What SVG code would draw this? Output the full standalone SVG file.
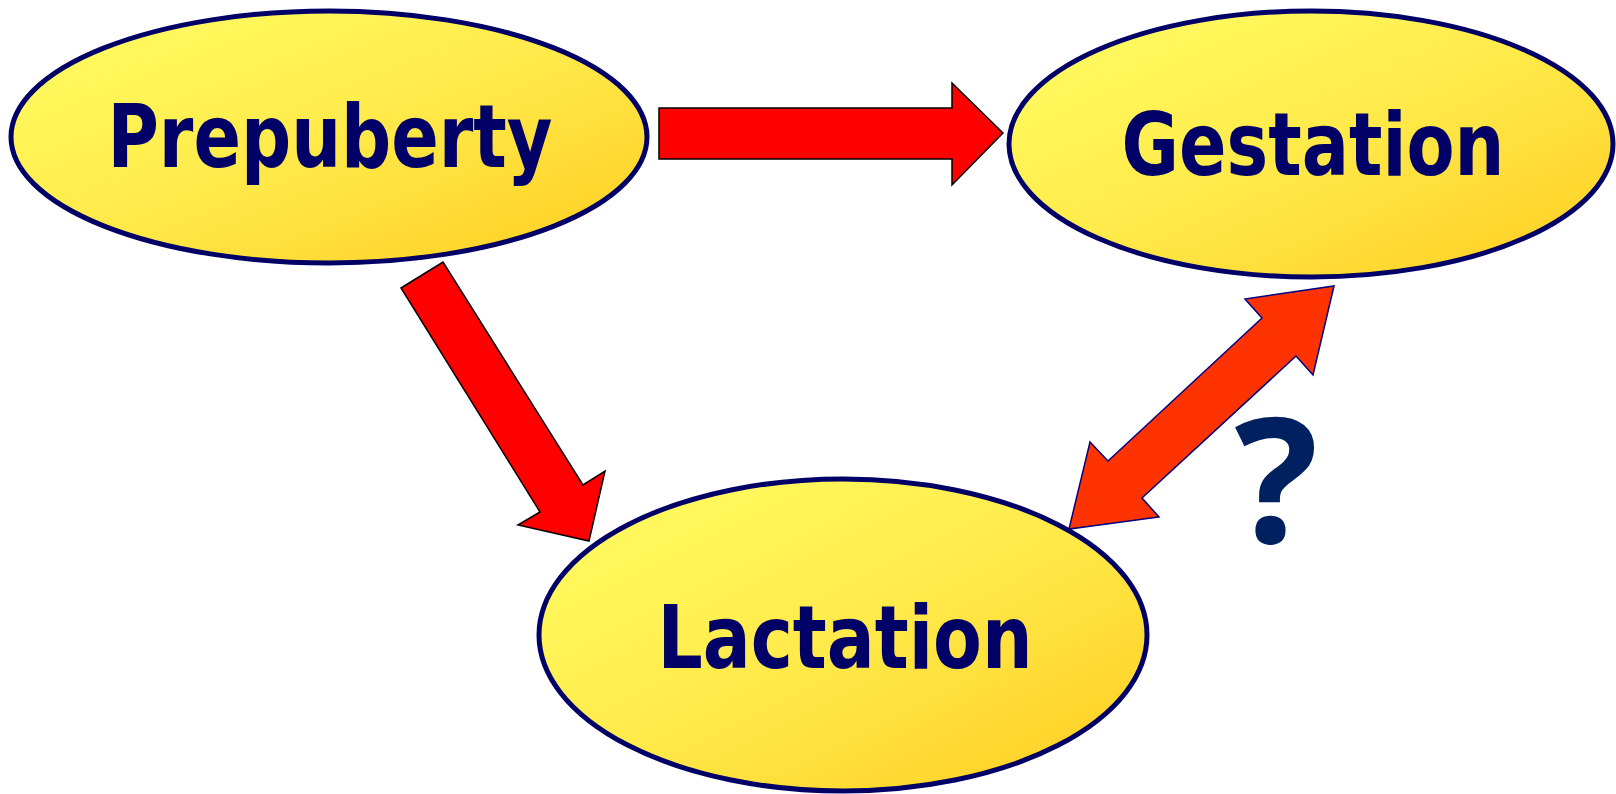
<svg xmlns="http://www.w3.org/2000/svg" width="1616" height="794" viewBox="0 0 1616 794">
<defs>
<linearGradient id="yg" x1="0" y1="0" x2="1" y2="1">
<stop offset="0" stop-color="#FFFF66"/>
<stop offset="0.5" stop-color="#FFEA4A"/>
<stop offset="1" stop-color="#FFCC1F"/>
</linearGradient>
<style>
.node ellipse{fill:url(#yg);stroke:#000066;stroke-width:5}
.lbl{font-family:"Comic Sans MS","DejaVu Sans",sans-serif;font-weight:bold;font-size:88px;fill:#000066;text-anchor:middle}
.red{fill:#FF0000;stroke:#000000;stroke-width:1.5;stroke-linejoin:miter}
.orange{fill:#FF3300;stroke:#000080;stroke-width:1.5}
</style>
</defs>
<rect width="1616" height="794" fill="#FFFFFF"/>
<g id="connectors">
<polygon class="red" points="659,108 952,108 952,83 1003,133 952,185 952,159 659,159"/>
<polygon class="red" points="401,288 443,262 583,485 605,471 589,541 518,525 540,512"/>
<polygon class="orange" points="1334,286 1313,375 1296,356 1142,498 1159,517 1069,529 1090,442 1108,461 1262,318 1245,299"/>
</g>
<g id="prepuberty" class="node">
<ellipse cx="329" cy="137" rx="318" ry="126"/>
<text class="lbl" x="330" y="167" textLength="445" lengthAdjust="spacingAndGlyphs">Prepuberty</text>
</g>
<g id="gestation" class="node">
<ellipse cx="1311" cy="144" rx="302" ry="133"/>
<text class="lbl" x="1313" y="175" textLength="383" lengthAdjust="spacingAndGlyphs">Gestation</text>
</g>
<g id="lactation" class="node">
<ellipse cx="843" cy="635" rx="304" ry="156"/>
<text class="lbl" x="845" y="668" textLength="375" lengthAdjust="spacingAndGlyphs">Lactation</text>
</g>
<g id="question">
<text x="1276" y="543" font-family="'Comic Sans MS','Noto Sans',sans-serif" font-weight="bold" font-size="175" fill="#002060" text-anchor="middle">?</text>
</g>
</svg>
